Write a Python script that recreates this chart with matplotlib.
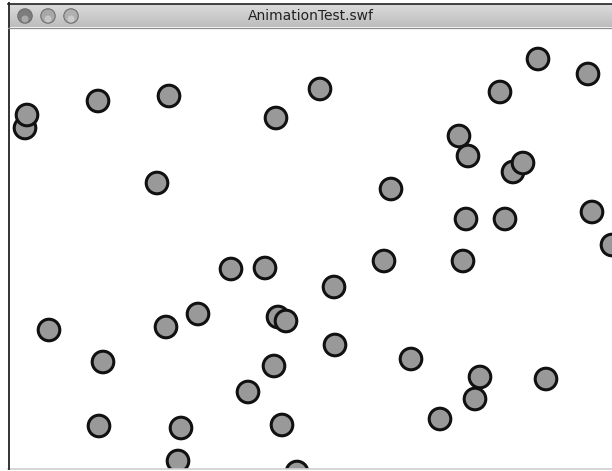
import numpy as np
import matplotlib
matplotlib.use("Agg")
import matplotlib.pyplot as plt
from matplotlib.patches import Circle, Rectangle

W, H = 612, 471

# ball positions in the stage (pixels, y down), listed in draw order
ball_x = [25, 27, 98, 169, 276, 320, 538, 588, 500, 459, 468, 513, 523,
          157, 391, 466, 505, 592, 612, 231, 265, 384, 463, 334, 49, 166,
          198, 278, 286, 335, 103, 274, 411, 475, 480, 546, 248, 440, 99,
          181, 282, 178, 297]
ball_y = [128, 115, 101, 96, 118, 89, 59, 74, 92, 136, 156, 172, 163,
          183, 189, 219, 219, 212, 245, 269, 268, 261, 261, 287, 330, 327,
          314, 317, 321, 345, 362, 366, 359, 399, 377, 379, 392, 419, 426,
          428, 425, 461, 472]

title = "AnimationTest.swf"

fig = plt.figure(figsize=(W / 100, H / 100), dpi=100)
ax = fig.add_axes([0, 0, 1, 1])
ax.set_xlim(0, W)
ax.set_ylim(H, 0)
ax.axis("off")

# balls
for x, y in zip(ball_x, ball_y):
    ax.add_patch(Circle((x, y), 10.8, facecolor="#999999", edgecolor="#111111",
                        lw=2.2, zorder=2))

# bottom edge of the window hides whatever falls below it
ax.add_patch(Rectangle((0, 469), W, 3, facecolor="white", edgecolor="none", zorder=5))
ax.plot([8, W], [469, 469], color="#d0d0d0", lw=1.2, zorder=6)

# left border
ax.plot([8.5, 8.5], [3, 469], color="#333333", lw=1.4, zorder=6)

# title bar gradient
grad = np.linspace(0.86, 0.74, 50).reshape(-1, 1)
ax.imshow(grad, cmap="gray", vmin=0, vmax=1, extent=[8.5, W, 27, 4],
          aspect="auto", zorder=4)
ax.plot([8, W], [3.5, 3.5], color="#222222", lw=1.2, zorder=6)
ax.plot([8, W], [27.5, 27.5], color="#8c8c8c", lw=0.9, zorder=6)

# window buttons
for bx, shade in zip([25, 48, 71], ["#7d7d7d", "#a8a8a8", "#b0b0b0"]):
    ax.add_patch(Circle((bx, 16), 7.2, facecolor=shade, edgecolor="#6e6e6e",
                        lw=0.8, zorder=7))
    ax.add_patch(Circle((bx, 19), 3.5, facecolor="white", edgecolor="none",
                        alpha=0.35, zorder=8))

ax.text(311, 15.5, title, ha="center", va="center", fontsize=10,
        color="#222222", family="DejaVu Sans", zorder=8)

fig.savefig("out.png", dpi=100)
